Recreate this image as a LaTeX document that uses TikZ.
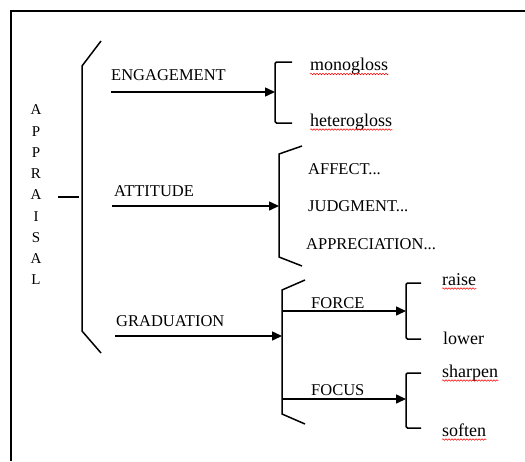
\documentclass[tikz,border=0pt]{standalone}
\usepackage{fontspec}
\setmainfont{Liberation Serif}
\usetikzlibrary{arrows.meta, positioning, decorations.pathmorphing}
\tikzstyle{cat} = [inner sep=0pt, anchor=base west, font=\fontsize{16.5}{18}\selectfont]
\tikzstyle{term} = [inner sep=0pt, anchor=base west, font=\fontsize{18}{20}\selectfont]
\tikzstyle{brace} = [line width=1.5pt]
\tikzstyle{bracket} = [line width=1.5pt, rounded corners=1.5pt]
\tikzstyle{reg} = [-{Triangle[length=10pt,width=9pt]}, line width=1.5pt]
\tikzstyle{spell} = [red, line width=0.5pt, decorate, decoration={snake, amplitude=0.8pt, segment length=3pt}]

\begin{document}
\begin{tikzpicture}[x=1pt, y=-1pt]
  \useasboundingbox (0,0) rectangle (525,461);
  % rahmen
  \draw[line width=2.4pt] (11,461) -- (11,11) -- (525,11);

  % wurzel
  \node[font=\fontsize{15}{21.25}\selectfont, align=center, inner sep=0pt] (appraisal) at (36,195) {A\\P\\P\\R\\A\\I\\S\\A\\L};
  \coordinate (dash) at (58,197);
  \coordinate (root) at (79,197);
  \draw[line width=1.2pt] (dash) -- (root);
  \draw[brace] (101,41) -- (82,66) -- (82,331) -- (101,353);

  % systeme
  \node[cat] (eng) at (111,80) {ENGAGEMENT};
  \node[cat] (att) at (114,196) {ATTITUDE};
  \node[cat] (grad) at (116,326.5) {GRADUATION};

  \coordinate (engS) at (111,92);
  \coordinate (engE) at (275,92);
  \coordinate (attS) at (112,206);
  \coordinate (attE) at (279,206);
  \coordinate (gradS) at (115,336);
  \coordinate (gradE) at (282,336);
  \draw[reg] (engS) -- (engE);
  \draw[reg] (attS) -- (attE);
  \draw[reg] (gradS) -- (gradE);

  % klammern
  \draw[bracket] (292,62) -- (275,62) -- (275,123) -- (292,123);
  \draw[brace] (302,146) -- (279,154) -- (279,257) -- (302,266);
  \draw[brace] (305,280) -- (282,290) -- (282,414) -- (305,424);

  % engagement
  \node[term] (mono) at (310,70.5) {monogloss};
  \node[term] (hetero) at (310,126) {heterogloss};

  % attitude
  \node[cat] (affect) at (308,174) {AFFECT...};
  \node[cat] (judg) at (308,211) {JUDGMENT...};
  \node[cat] (appr) at (306,249.5) {APPRECIATION...};

  % graduation
  \node[cat] (force) at (311,308) {FORCE};
  \node[cat] (focus) at (311,395) {FOCUS};
  \coordinate (forceS) at (282,311);
  \coordinate (forceE) at (406,311);
  \coordinate (focusS) at (282,399);
  \coordinate (focusE) at (406,399);
  \draw[reg] (forceS) -- (forceE);
  \draw[reg] (focusS) -- (focusE);

  \draw[bracket] (421,283) -- (406,283) -- (406,339) -- (421,339);
  \draw[bracket] (421,373) -- (406,373) -- (406,428) -- (421,428);

  \node[term] (raise) at (442,285) {raise};
  \node[term] (lower) at (443,344) {lower};
  \node[term] (sharpen) at (442,377) {sharpen};
  \node[term] (soften) at (442,436) {soften};

  % rechtschreibung
  \foreach \w in {mono, hetero, raise, sharpen, soften}
    \draw[spell] ([yshift=-3.5pt]\w.base west) -- ([yshift=-3.5pt]\w.base east);
\end{tikzpicture}
\end{document}
